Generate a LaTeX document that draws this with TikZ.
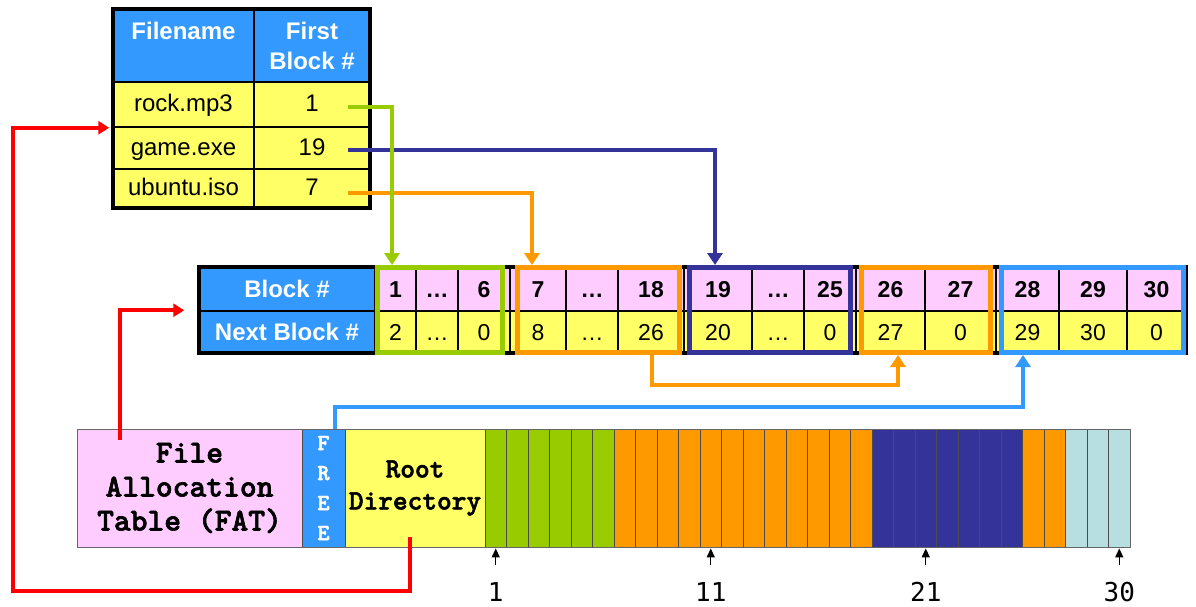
\documentclass[tikz,border=0pt]{standalone}
\usepackage{fontspec}
\newfontfamily\arialf{Liberation Sans}
\newfontfamily\dmonof{DejaVu Sans Mono}
\newfontfamily\courf{lmmonolt10-bold.otf}[FakeBold=2]
\usetikzlibrary{arrows.meta,calc}
\definecolor{hblue}{HTML}{3399FF}
\definecolor{cyel}{HTML}{FFFF66}
\definecolor{cpink}{HTML}{FFCCFF}
\definecolor{cgreen}{HTML}{99CC00}
\definecolor{corange}{HTML}{FF9900}
\definecolor{cnavy}{HTML}{333399}
\definecolor{ccyan}{HTML}{B7DEE0}
\definecolor{cred}{HTML}{FF0000}
\tikzset{
 tcell/.style={draw=black, line width=1.5pt, inner sep=0pt, font=\arialf\fontsize{24pt}{30pt}\selectfont},
 hcell/.style={tcell, fill=hblue, text=white, align=center, font=\arialf\bfseries\fontsize{24pt}{30pt}\selectfont},
 ycell/.style={tcell, fill=cyel, text height=18pt, text depth=4pt},
 pcell/.style={tcell, fill=cpink, font=\arialf\bfseries\fontsize{23pt}{28pt}\selectfont, text height=17pt, text depth=0pt},
 bcell/.style={tcell, fill=cyel, font=\arialf\fontsize{23pt}{28pt}\selectfont, text height=17pt, text depth=0pt},
 boxframe/.style={draw=#1, line width=5pt, inner sep=0pt, minimum height=85pt},
 conn/.style={draw=#1, line width=4pt, -{Triangle[width=15pt,length=12pt]}},
 redconn/.style={draw=cred, line width=4pt, -{Triangle[width=13pt,length=11pt]}},
 barseg/.style={draw=black!70, line width=0.8pt, inner sep=0pt, minimum height=118pt},
 stripe/.style={barseg, fill=#1, minimum width=21.5pt},
 tickarrow/.style={draw=black, line width=1.3pt, -{Triangle[width=8pt,length=9pt]}},
 numlab/.style={font=\dmonof\fontsize{26pt}{30pt}\selectfont, inner sep=0pt}
}
\begin{document}
\begin{tikzpicture}[x=1pt,y=-1pt]
\useasboundingbox (0,0) rectangle (1196,606);
% ---------- bottom disk bar ----------
\node[barseg, fill=cpink, minimum width=225pt, font=\courf\fontsize{32pt}{34pt}\selectfont, align=center] (fat) at (189.5,488) {File\\Allocation\\Table (FAT)};
\node[barseg, fill=hblue, minimum width=43pt, text=white, font=\courf\fontsize{23pt}{30pt}\selectfont, align=center] (free) at (323.5,488) {F\\R\\E\\E};
\node[barseg, fill=cyel, minimum width=140pt, font=\courf\fontsize{28pt}{32pt}\selectfont, align=center] (root) at (415,488) {Root\\Directory};
\foreach \i in {1,...,6}   {\node[stripe=cgreen]  (s\i) at ({485+21.5*(\i-0.5)},488) {};}
\foreach \i in {7,...,18}  {\node[stripe=corange] (s\i) at ({485+21.5*(\i-0.5)},488) {};}
\foreach \i in {19,...,25} {\node[stripe=cnavy]   (s\i) at ({485+21.5*(\i-0.5)},488) {};}
\foreach \i in {26,27}     {\node[stripe=corange] (s\i) at ({485+21.5*(\i-0.5)},488) {};}
\foreach \i in {28,29,30}  {\node[stripe=ccyan]   (s\i) at ({485+21.5*(\i-0.5)},488) {};}
\draw[black!60, line width=1pt] (77,429) rectangle (1130,547);
\foreach \i in {1,11,21,30} {
  \node[numlab] (l\i) at ({485+21.5*(\i-0.5)},592) {\i};
  \draw[tickarrow] ([yshift=17pt]l\i.north) -- ([yshift=-1pt]s\i.south);
}
% ---------- directory table ----------
\node[hcell, minimum width=141pt, minimum height=73pt] (hf) at (183.5,45.5) {Filename\\\phantom{B}};
\node[hcell, minimum width=116pt, minimum height=73pt] (hfb) at (312,45.5) {First\\Block \#};
\node[ycell, minimum width=141pt, minimum height=45pt] (n1) at (183.5,104.5) {rock.mp3};
\node[ycell, minimum width=116pt, minimum height=45pt] (f1) at (312,104.5) {1};
\node[ycell, minimum width=141pt, minimum height=42pt] (n2) at (183.5,148) {game.exe};
\node[ycell, minimum width=116pt, minimum height=42pt] (f2) at (312,148) {19};
\node[ycell, minimum width=141pt, minimum height=39pt] (n3) at (183.5,188.5) {ubuntu.iso};
\node[ycell, minimum width=116pt, minimum height=39pt] (f3) at (312,188.5) {7};
\draw[line width=4pt] (113,9) rectangle (370,208);
% ---------- FAT block table ----------
\node[hcell, minimum width=176pt, minimum height=43.5pt] (hb) at (287,289.25) {Block \#};
\node[hcell, minimum width=176pt, minimum height=41.5pt] (hn) at (287,331.75) {Next Block \#};
\foreach \n/\cx/\w/\a/\b in {1/395.5/41/1/2, 2/437/42/…/…, 3/484/52/6/0,
  4/538/56/7/8, 5/592/52/…/…, 6/651/66/18/26,
  7/718/68/19/20, 8/778/52/…/…, 9/830/52/25/0,
  10/890.5/69/26/27, 11/960.5/71/27/0,
  12/1027.5/63/28/29, 13/1093/68/29/30, 14/1156.5/59/30/0} {
  \node[pcell, minimum width=\w pt, minimum height=43.5pt] (t\n) at (\cx,289.25) {\a};
  \node[bcell, minimum width=\w pt, minimum height=41.5pt] (u\n) at (\cx,331.75) {\b};
}
\draw[line width=4pt] (199,267) rectangle (1186,353);
\node[boxframe=cgreen,  minimum width=125pt] (fg)  at (440,310) {};
\node[boxframe=corange, minimum width=162pt] (foa) at (598.5,310) {};
\node[boxframe=cnavy,   minimum width=161pt] (fnv) at (770,310) {};
\node[boxframe=corange, minimum width=129pt] (fob) at (926,310) {};
\node[boxframe=hblue,   minimum width=182pt] (fbl) at (1092.5,310) {};
% ---------- connectors ----------
\draw[conn=cnavy]   ([xshift=36pt,yshift=-2pt]f2.center) -| ([xshift=-55pt]fnv.north);
\draw[conn=corange] ([xshift=36pt,yshift=-4.5pt]f3.center) -| ([xshift=-66.5pt]foa.north);
\draw[conn=cgreen]  ([xshift=36pt,yshift=-2.5pt]f1.center) -| ([xshift=-48pt]fg.north);
\draw[conn=corange] ([xshift=53.5pt]foa.south) -- ++(0,30) -| ([xshift=-28pt]fob.south);
\draw[conn=hblue]   ([xshift=11.5pt]free.north) -- ++(0,-22) -| ([xshift=-69.5pt]fbl.south);
\draw[redconn] ([xshift=-69.5pt,yshift=-11pt]fat.north) |- ([xshift=-14pt]hn.north west);
\draw[redconn] ([xshift=-5pt,yshift=10pt]root.south) -- ++(0,54) -- ++(-397,0) |- ([xshift=-3pt]n1.south west);
\end{tikzpicture}
\end{document}
